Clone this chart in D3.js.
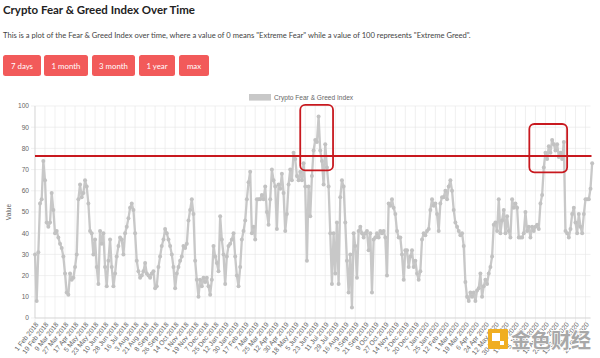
<!DOCTYPE html>
<html><head><meta charset="utf-8">
<script src="https://cdn.jsdelivr.net/npm/d3@7/dist/d3.min.js"></script>
<style>body{margin:0;background:#fff}svg{display:block}</style>
</head><body><svg id="c" width="600" height="358"></svg>
<script>
// ---------- data ----------
const tickLabels = [
"1 Feb 2018","19 Feb 2018","9 Mar 2018","27 Mar 2018","17 Apr 2018","5 May 2018","23 May 2018","10 Jun 2018",
"28 Jun 2018","16 Jul 2018","3 Aug 2018","21 Aug 2018","8 Sep 2018","26 Sep 2018","14 Oct 2018","1 Nov 2018",
"19 Nov 2018","7 Dec 2018","25 Dec 2018","12 Jan 2019","30 Jan 2019","17 Feb 2019","7 Mar 2019","25 Mar 2019",
"12 Apr 2019","30 Apr 2019","18 May 2019","5 Jun 2019","23 Jun 2019","11 Jul 2019","29 Jul 2019","16 Aug 2019",
"3 Sep 2019","21 Sep 2019","9 Oct 2019","27 Oct 2019","14 Nov 2019","2 Dec 2019","20 Dec 2019","7 Jan 2020",
"25 Jan 2020","12 Feb 2020","1 Mar 2020","19 Mar 2020","6 Apr 2020","24 Apr 2020","12 May 2020","30 May 2020",
"17 Jun 2020","5 Jul 2020","23 Jul 2020","10 Aug 2020","28 Aug 2020","15 Sep 2020","3 Oct 2020","21 Oct 2020"];
const labelEvery = 18;   // days (categories) between shown labels
const sampleEvery = 3;   // days between stored readings
const totalDays = 1000;
const fgValues = [
30,8,31,54,56,74,65,45,43,45,59,51,40,41,38,35,33,29,21,12,11,21,18,19,24,30,56,63,57,59,65,62,54,41,40,30,37,24,16,41,
35,40,24,15,27,37,24,15,21,29,34,38,37,30,40,43,47,52,54,51,40,27,22,19,20,22,26,21,20,19,21,22,14,15,24,29,34,37,42,40,
37,34,30,24,14,21,24,27,29,34,33,35,46,51,56,49,27,18,10,18,15,19,17,19,15,11,18,34,29,26,22,
48,37,30,16,29,34,35,37,40,29,20,15,24,37,41,46,56,64,69,40,43,37,56,56,56,58,56,62,50,44,56,70,65,62,42,63,61,68,59,41,
49,63,70,65,78,75,67,65,69,65,73,62,27,62,48,67,79,84,83,95,79,74,63,82,71,62,40,16,40,21,45,16,57,65,62,45,27,12,30,5,
40,34,19,41,43,40,38,40,41,32,40,12,37,38,40,38,41,40,41,38,20,54,53,56,52,49,41,38,38,30,18,32,
32,24,29,32,24,27,21,18,22,37,40,39,41,42,51,56,53,54,49,41,54,57,57,60,56,62,65,60,51,45,43,41,39,40,34,17,10,8,12,10,
12,8,13,14,21,10,15,18,16,21,24,29,44,45,41,56,40,46,51,40,48,41,38,56,52,54,52,38,38,38,40,50,41,43,38,43,41,43,44,42,
54,58,71,78,75,81,78,84,82,79,82,76,78,75,83,41,40,38,42,49,52,45,40,49,43,40,49,56,56,56,61,73];
const yTickValues = [0,10,20,30,40,50,60,70,80,90,100];
const thresholdValue = 76.4;
// highlight boxes in data units: day range and value range
const boxDayFrom = [477, 889], boxDayTo = [536, 957], boxLow = [69.6, 68.7], boxHigh = [100.5, 91.5];
const buttonLabels = ["7 days","1 month","3 month","1 year","max"];
const seriesName = "Crypto Fear & Greed Index";

// ---------- layout ----------
const svg = d3.select("#c");
const chartFont = "'Liberation Sans', Arial, Helvetica, sans-serif";
const pageFont = "Lato, 'Open Sans', sans-serif";
const L = 35, R = 590.5, T = 106, B = 318;

const x = d3.scaleLinear().domain([0, totalDays - 1]).range([L, R]);
const y = d3.scaleLinear().domain([0, 100]).range([B, T]);

// page header
const title = svg.append("text").attr("x", 3).attr("y", 14).attr("font-family", pageFont)
  .attr("font-weight", 700).attr("font-size", 11.5).attr("fill", "#222")
  .text("Crypto Fear & Greed Index Over Time");
const desc = svg.append("text").attr("x", 3).attr("y", 38).attr("font-family", pageFont)
  .attr("font-size", 7.7).attr("fill", "#444")
  .text('This is a plot of the Fear & Greed Index over time, where a value of 0 means "Extreme Fear" while a value of 100 represents "Extreme Greed".');
function fitWidth(sel, w){ const cur = sel.node().getComputedTextLength(); const fs = +sel.attr("font-size"); sel.attr("font-size", fs * w / cur); }
fitWidth(title, 192); fitWidth(desc, 467);

const btnX = [3, 44, 92, 139, 179], btnW = [38, 44, 43, 36, 30];
const btn = svg.append("g").selectAll("g").data(buttonLabels).join("g")
  .attr("transform", (d,i) => `translate(${btnX[i]},55)`);
btn.append("rect").attr("width", (d,i)=>btnW[i]).attr("height", 21).attr("rx", 2.5).attr("fill", "#f25a5a");
btn.append("text").attr("x", (d,i)=>btnW[i]/2).attr("y", 13.6).attr("text-anchor","middle")
  .attr("font-family", pageFont).attr("font-size", 7.8).attr("fill", "#fff").text(d=>d);

// grid
const grid = svg.append("g").attr("stroke", "#e6e6e6").attr("stroke-width", 0.6);
grid.selectAll("line.h").data(yTickValues).join("line")
  .attr("x1", L - 4).attr("x2", R).attr("y1", d=>y(d)).attr("y2", d=>y(d));
const tickIdx = tickLabels.map((d,i)=>i*labelEvery);
grid.selectAll("line.v").data(tickIdx).join("line")
  .attr("x1", d=>x(d)).attr("x2", d=>x(d)).attr("y1", T).attr("y2", B + 4);
svg.append("line").attr("x1", L).attr("x2", L).attr("y1", T).attr("y2", B).attr("stroke","#d0d0d0").attr("stroke-width",0.7);
svg.append("line").attr("x1", L).attr("x2", R).attr("y1", B).attr("y2", B).attr("stroke","#d0d0d0").attr("stroke-width",0.7);

// y ticks
svg.append("g").selectAll("text").data(yTickValues).join("text")
  .attr("x", L - 6).attr("y", d=>y(d)).attr("dy", "0.35em").attr("text-anchor","end")
  .attr("font-family", chartFont).attr("font-size", 6.6).attr("fill", "#666").text(d=>d);
svg.append("text").attr("transform", `translate(11,${(T+B)/2}) rotate(-90)`).attr("text-anchor","middle")
  .attr("font-family", chartFont).attr("font-size", 6.6).attr("fill", "#666").text("Value");

// x ticks
svg.append("g").selectAll("text").data(tickLabels).join("text")
  .attr("transform", (d,i)=>`translate(${x(i*labelEvery)+2},${B+5}) rotate(-52)`)
  .attr("text-anchor","end").attr("dy","0.35em")
  .attr("font-family", chartFont).attr("font-size", 6.8).attr("fill", "#666").text(d=>d);

// legend
svg.append("rect").attr("x", 249).attr("y", 94).attr("width", 22).attr("height", 6.6).attr("fill", "#c8c8c8");
svg.append("text").attr("x", 274).attr("y", 97.5).attr("dy","0.35em").attr("font-family", chartFont)
  .attr("font-size", 6.6).attr("fill", "#666").text(seriesName);

// series
const line = d3.line().x((d,i)=>x(i*sampleEvery)).y(d=>y(d));
svg.append("path").datum(fgValues).attr("d", line).attr("fill","none").attr("stroke","#c8c8c8")
  .attr("stroke-width",2.3).attr("stroke-linejoin","round");
svg.append("g").selectAll("circle").data(fgValues).join("circle")
  .attr("cx",(d,i)=>x(i*sampleEvery)).attr("cy", d=>y(d)).attr("r", 2).attr("fill","#c2c2c2");

// threshold line
svg.append("line").attr("x1", L).attr("x2", R + 1).attr("y1", y(thresholdValue)).attr("y2", y(thresholdValue))
  .attr("stroke", "#c8191f").attr("stroke-width", 2);

// highlight boxes
svg.append("g").selectAll("rect").data(boxDayFrom).join("rect")
  .attr("x", (d,i)=>x(boxDayFrom[i])).attr("y", (d,i)=>y(boxHigh[i]))
  .attr("width", (d,i)=>x(boxDayTo[i]) - x(boxDayFrom[i])).attr("height", (d,i)=>y(boxLow[i]) - y(boxHigh[i]))
  .attr("rx", 5).attr("fill","none").attr("stroke","#c8191f").attr("stroke-width",1.8);

// watermark
const wm = svg.append("g");
wm.append("rect").attr("x", 488).attr("y", 329).attr("width", 20).attr("height", 20).attr("rx", 1).attr("fill", "#f0ae22");
wm.append("rect").attr("x", 492).attr("y", 333).attr("width", 8).attr("height", 8).attr("fill", "#fff");
wm.append("rect").attr("x", 500).attr("y", 341).attr("width", 4).attr("height", 4).attr("fill", "#fff");
wm.append("text").attr("x", 511).attr("y", 348).attr("font-family", "'Noto Sans CJK SC', sans-serif")
  .attr("font-size", 20).attr("font-weight", 700).attr("fill", "#a8a8a8").attr("stroke", "#fff")
  .attr("stroke-width", 1.6).attr("paint-order", "stroke").text("金色财经");
</script></body></html>
